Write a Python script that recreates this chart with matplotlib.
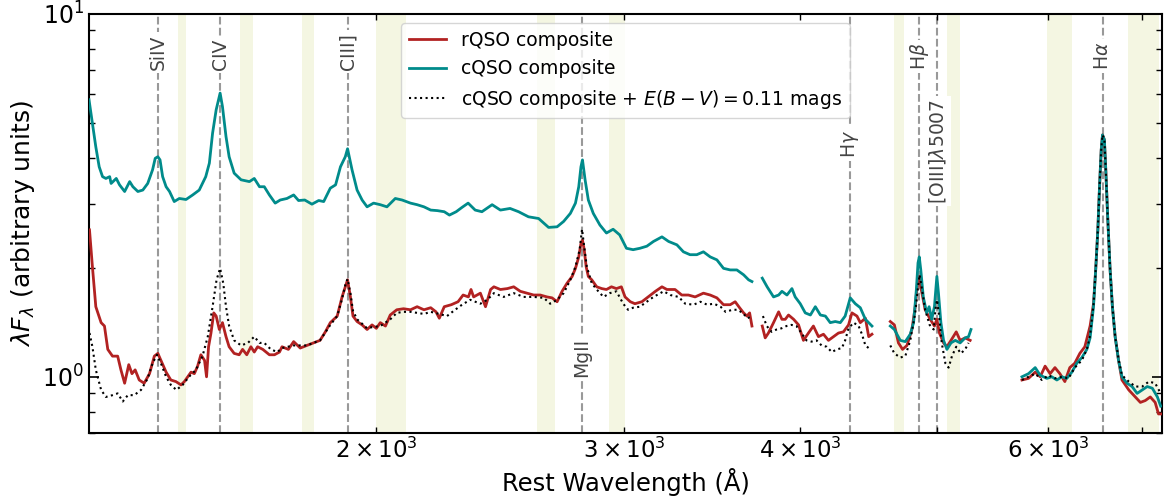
import numpy as np
import matplotlib
matplotlib.use("Agg")
import matplotlib.pyplot as plt

nan = np.nan

# ---------------- data ----------------
# cQSO composite (teal); nan entries mark gaps in the spectrum
cqso_wave = [1250, 1257, 1264, 1271, 1278, 1285, 1293, 1296, 1307, 1314, 1325, 1336, 1343, 1354,
             1365, 1376, 1387, 1393, 1399, 1404, 1410, 1418, 1426, 1437, 1449, 1465, 1481, 1497,
             1513, 1522, 1530, 1539, 1549, 1555, 1564, 1572, 1585, 1603, 1625, 1638, 1652, 1665,
             1679, 1695, 1709, 1728, 1747, 1761, 1779, 1800, 1820, 1835, 1855, 1871, 1886, 1901,
             1908, 1922, 1938, 1954, 1970, 1991, 2013, 2035, 2063, 2086, 2115, 2138, 2162, 2186,
             2210, 2235, 2254, 2279, 2301, 2324, 2351, 2377, 2417, 2450, 2489, 2524, 2565, 2608,
             2651, 2688, 2717, 2747, 2770, 2785, 2795, 2802, 2814, 2829, 2852, 2883, 2914, 2946,
             2978, 3011, 3044, 3078, 3113, 3147, 3191, 3226, 3270, 3305, 3341, 3378, 3415, 3453,
             3491, 3529, 3568, 3607, 3647, 3677, 3697, 3730,
             3760, 3790, 3830, 3862, 3883, 3915, 3947, 3968, 4001, 4034, 4068, 4101, 4135, 4169,
             4202, 4237, 4272, 4306, 4342, 4378, 4414, 4451, 4499, 4570,
             4636, 4667, 4712, 4751, 4790, 4816, 4838, 4851, 4861, 4873, 4893, 4920, 4940, 4961,
             4983, 5003, 5016, 5036, 5058, 5086, 5120, 5156, 5197, 5240, 5269, 5290, 5500,
             5750, 5812, 5876, 5924, 5989, 6038, 6088, 6138, 6188, 6239, 6290, 6342, 6394, 6428,
             6464, 6487, 6510, 6528, 6546, 6560, 6580, 6595, 6617, 6642, 6667, 6697, 6734, 6772,
             6828, 6885, 6942, 7000, 7058, 7117, 7176, 7215]
cqso_flux = [5.80, 5.00, 4.30, 3.79, 3.56, 3.52, 3.56, 3.41, 3.52, 3.38, 3.24, 3.45, 3.34, 3.24,
             3.27, 3.41, 3.72, 4.00, 4.04, 3.96, 3.56, 3.34, 3.24, 3.04, 3.10, 3.08, 3.17, 3.27,
             3.56, 3.88, 4.69, 5.44, 6.05, 5.55, 4.59, 4.04, 3.64, 3.49, 3.45, 3.52, 3.34, 3.34,
             3.17, 3.01, 3.07, 3.10, 3.17, 3.06, 3.07, 2.99, 3.06, 3.04, 3.31, 3.38, 3.79, 4.04,
             4.25, 3.72, 3.27, 3.07, 2.94, 3.01, 2.98, 2.94, 3.10, 3.07, 3.01, 2.98, 2.94, 2.88,
             2.87, 2.85, 2.79, 2.85, 2.93, 3.01, 2.88, 2.85, 2.98, 2.88, 2.91, 2.85, 2.76, 2.73,
             2.58, 2.59, 2.68, 2.82, 3.01, 3.34, 3.79, 3.96, 3.49, 3.07, 2.82, 2.62, 2.49, 2.55,
             2.46, 2.26, 2.24, 2.26, 2.29, 2.36, 2.43, 2.36, 2.31, 2.21, 2.17, 2.17, 2.21, 2.14,
             2.10, 1.99, 1.97, 1.97, 1.91, 1.85, 1.83, nan,
             1.87, 1.77, 1.66, 1.68, 1.72, 1.68, 1.75, 1.66, 1.59, 1.50, 1.48, 1.56, 1.48, 1.47,
             1.41, 1.42, 1.41, 1.47, 1.65, 1.59, 1.55, 1.44, 1.38, nan,
             1.38, 1.35, 1.26, 1.25, 1.31, 1.41, 1.74, 2.06, 2.14, 1.97, 1.66, 1.50, 1.56, 1.44,
             1.56, 1.89, 1.70, 1.41, 1.26, 1.19, 1.24, 1.26, 1.24, 1.28, 1.29, 1.35, nan,
             1.00, 1.02, 1.06, 1.01, 0.99, 1.00, 0.98, 1.00, 0.99, 1.03, 1.09, 1.13, 1.19, 1.28,
             1.56, 1.97, 2.54, 3.34, 4.22, 4.64, 4.50, 3.72, 2.71, 1.97, 1.56, 1.29, 1.11, 1.00,
             0.96, 0.94, 0.90, 0.92, 0.94, 0.93, 0.88, 0.83]

# rQSO composite (red)
rqso_wave = [1251, 1257, 1264, 1275, 1282, 1289, 1299, 1310, 1317, 1325, 1334, 1341, 1348, 1357,
             1368, 1380, 1391, 1399, 1406, 1418, 1429, 1441, 1453, 1461, 1469, 1477, 1485, 1493,
             1501, 1510, 1515, 1520, 1526, 1533, 1539, 1547, 1555, 1564, 1572, 1585, 1598, 1607,
             1618, 1629, 1638, 1647, 1661, 1679, 1693, 1707, 1714, 1732, 1747, 1766, 1785, 1805,
             1824, 1840, 1855, 1876, 1891, 1901, 1908, 1917, 1925, 1938, 1954, 1970, 1986, 2000,
             2013, 2030, 2046, 2068, 2091, 2115, 2138, 2162, 2186, 2205, 2217, 2235, 2261, 2286,
             2305, 2325, 2335, 2345, 2371, 2391, 2411, 2424, 2450, 2478, 2504, 2531, 2559, 2587,
             2615, 2644, 2666, 2688, 2710, 2732, 2755, 2770, 2785, 2795, 2802, 2810, 2819, 2829,
             2845, 2868, 2892, 2914, 2938, 2962, 2986, 3004, 3030, 3053, 3088, 3120, 3157, 3191,
             3217, 3260, 3296, 3332, 3369, 3415, 3453, 3491, 3529, 3568, 3597, 3623, 3647, 3667,
             3683, 3697, 3730,
             3760, 3778, 3798, 3830, 3862, 3883, 3904, 3925, 3958, 3990, 4022, 4055, 4088, 4122,
             4156, 4190, 4225, 4259, 4294, 4330, 4354, 4390, 4414, 4451, 4475, 4499, 4570,
             4636, 4667, 4698, 4730, 4764, 4803, 4829, 4847, 4861, 4877, 4908, 4949, 4983, 5003,
             5024, 5058, 5086, 5120, 5164, 5197, 5240, 5283, 5500,
             5750, 5812, 5876, 5924, 5972, 6021, 6069, 6118, 6168, 6218, 6269, 6321, 6373, 6428,
             6464, 6487, 6510, 6528, 6546, 6560, 6580, 6595, 6617, 6642, 6667, 6697, 6734, 6772,
             6848, 6922, 6979, 7035, 7093, 7150, 7189, 7228]
rqso_flux = [2.54, 2.01, 1.56, 1.41, 1.38, 1.19, 1.14, 1.14, 1.045, 0.96, 1.08, 1.02, 1.045, 0.98,
             0.96, 1.02, 1.14, 1.16, 1.11, 1.03, 0.98, 0.97, 0.95, 0.97, 1.00, 1.03, 1.02, 1.07,
             1.15, 1.11, 1.00, 1.21, 1.32, 1.50, 1.47, 1.35, 1.41, 1.29, 1.21, 1.16, 1.15, 1.19,
             1.15, 1.21, 1.17, 1.21, 1.19, 1.15, 1.15, 1.17, 1.21, 1.19, 1.25, 1.20, 1.22, 1.24,
             1.26, 1.33, 1.41, 1.47, 1.66, 1.77, 1.85, 1.66, 1.47, 1.42, 1.39, 1.35, 1.39, 1.36,
             1.41, 1.38, 1.48, 1.53, 1.54, 1.53, 1.56, 1.53, 1.55, 1.51, 1.45, 1.56, 1.58, 1.61,
             1.68, 1.66, 1.74, 1.66, 1.70, 1.56, 1.74, 1.77, 1.74, 1.75, 1.77, 1.72, 1.70, 1.68,
             1.68, 1.66, 1.65, 1.61, 1.72, 1.81, 1.89, 1.99, 2.14, 2.33, 2.38, 2.24, 2.01, 1.89,
             1.85, 1.77, 1.75, 1.74, 1.77, 1.75, 1.77, 1.66, 1.61, 1.59, 1.61, 1.66, 1.72, 1.77,
             1.74, 1.74, 1.68, 1.68, 1.66, 1.70, 1.68, 1.65, 1.58, 1.58, 1.61, 1.55, 1.50, 1.47,
             1.50, 1.38, nan,
             1.38, 1.28, 1.32, 1.41, 1.51, 1.44, 1.44, 1.48, 1.44, 1.39, 1.26, 1.32, 1.38, 1.29,
             1.31, 1.26, 1.29, 1.32, 1.33, 1.39, 1.50, 1.47, 1.41, 1.45, 1.29, 1.31, nan,
             1.42, 1.39, 1.24, 1.19, 1.22, 1.35, 1.56, 1.81, 1.89, 1.74, 1.53, 1.44, 1.38, 1.44,
             1.32, 1.24, 1.21, 1.26, 1.33, 1.26, 1.28, 1.26, nan,
             0.98, 0.99, 1.03, 1.00, 1.07, 1.02, 1.06, 1.02, 0.97, 1.06, 1.09, 1.16, 1.21, 1.38,
             1.59, 1.97, 2.54, 3.34, 4.22, 4.64, 4.50, 3.72, 2.71, 1.97, 1.56, 1.29, 1.11, 0.98,
             0.92, 0.88, 0.85, 0.86, 0.88, 0.85, 0.79, 0.79]

# cQSO composite reddened by E(B-V)=0.11 (black dotted)
red_wave = [1251, 1257, 1264, 1275, 1285, 1299, 1310, 1321, 1332, 1346, 1361, 1376, 1387, 1397,
            1406, 1418, 1429, 1442, 1457, 1472, 1489, 1505, 1518, 1530, 1540, 1549, 1557, 1564,
            1572, 1585, 1603, 1621, 1638, 1652, 1665, 1683, 1701, 1714, 1747, 1785, 1824, 1855,
            1876, 1891, 1901, 1908, 1917, 1925, 1938, 1954, 1970, 1986, 2013, 2046, 2068, 2091,
            2115, 2138, 2162, 2186, 2217, 2245, 2270, 2301, 2332, 2371, 2398, 2424, 2463, 2504,
            2545, 2587, 2630, 2658, 2688, 2717, 2747, 2770, 2789, 2800, 2810, 2822, 2845, 2868,
            2900, 2930, 2962, 2995, 3019, 3044, 3078, 3113, 3147, 3200, 3235, 3279, 3315, 3361,
            3398, 3436, 3474, 3512, 3541, 3581, 3611, 3641, 3671, 3694, 3730,
            3764, 3788, 3818, 3849, 3880, 3912, 3944, 3976, 4009, 4042, 4075, 4109, 4143, 4178,
            4213, 4248, 4283, 4306, 4330, 4366, 4402, 4426, 4451, 4475, 4570,
            4636, 4667, 4712, 4751, 4790, 4829, 4851, 4864, 4883, 4908, 4944, 4977, 4994, 5005,
            5024, 5043, 5073, 5100, 5128, 5164, 5203, 5240, 5269, 5500,
            5750, 5812, 5876, 5940, 6005, 6069, 6138, 6205, 6269, 6342, 6394, 6428, 6464, 6487,
            6510, 6528, 6546, 6560, 6580, 6595, 6617, 6642, 6667, 6697, 6734, 6772, 6848, 6922,
            7000, 7077, 7150, 7215]
red_flux = [1.32, 1.21, 1.045, 0.92, 0.88, 0.89, 0.90, 0.855, 0.89, 0.89, 0.92, 0.99, 1.09, 1.15,
            1.09, 1.00, 0.95, 0.92, 0.95, 1.00, 1.045, 1.14, 1.29, 1.56, 1.85, 1.99, 1.81, 1.56,
            1.38, 1.26, 1.22, 1.24, 1.29, 1.24, 1.24, 1.19, 1.17, 1.20, 1.22, 1.22, 1.26, 1.39,
            1.47, 1.64, 1.79, 1.86, 1.70, 1.52, 1.44, 1.40, 1.36, 1.37, 1.38, 1.44, 1.50, 1.51,
            1.51, 1.50, 1.49, 1.51, 1.49, 1.47, 1.52, 1.58, 1.63, 1.59, 1.63, 1.70, 1.66, 1.70,
            1.66, 1.66, 1.65, 1.59, 1.63, 1.70, 1.85, 2.01, 2.24, 2.55, 2.28, 2.01, 1.81, 1.74,
            1.66, 1.70, 1.72, 1.59, 1.53, 1.55, 1.56, 1.61, 1.66, 1.72, 1.68, 1.66, 1.59, 1.58,
            1.61, 1.58, 1.59, 1.56, 1.51, 1.53, 1.53, 1.50, 1.45, 1.47, nan,
            1.47, 1.38, 1.33, 1.35, 1.36, 1.38, 1.39, 1.38, 1.32, 1.26, 1.25, 1.26, 1.22, 1.21,
            1.17, 1.19, 1.20, 1.26, 1.36, 1.41, 1.38, 1.31, 1.22, 1.20, nan,
            1.22, 1.16, 1.13, 1.14, 1.26, 1.50, 1.77, 1.91, 1.74, 1.53, 1.39, 1.35, 1.56, 1.63,
            1.44, 1.24, 1.09, 1.06, 1.14, 1.21, 1.16, 1.19, 1.24, nan,
            0.98, 1.00, 1.02, 0.98, 1.01, 0.99, 1.00, 0.99, 1.06, 1.11, 1.19, 1.30, 1.58, 1.97,
            2.54, 3.34, 4.22, 4.64, 4.50, 3.72, 2.71, 1.97, 1.56, 1.29, 1.12, 1.01, 0.97, 0.94,
            0.94, 0.97, 0.96, 0.90]

# emission lines
line_names = ["SiIV", "CIV", "CIII]", "MgII", r"H$\gamma$", r"H$\beta$",
              r"[OIII]$\lambda$5007", r"H$\alpha$"]
line_waves = [1400, 1549, 1909, 2800, 4341, 4861, 5007, 6563]
line_label_y = [7.0, 7.0, 7.0, 1.0, 4.0, 7.0, 3.0, 7.0]

# shaded wavelength windows
band_lo = [1445, 1600, 1770, 2000, 2600, 2925, 4665, 5090, 5990, 6840]
band_hi = [1465, 1635, 1805, 2100, 2680, 3005, 4740, 5200, 6245, 7190]

# ---------------- figure ----------------
fig = plt.figure(figsize=(11.65, 4.96), dpi=100)
ax = fig.add_axes([0.0764, 0.127, 0.921, 0.845])

for lo, hi in zip(band_lo, band_hi):
    ax.axvspan(lo, hi, color="#f4f6e2", lw=0, zorder=0)

for w, name, ly in zip(line_waves, line_names, line_label_y):
    ax.axvline(w, color="#999999", ls="--", lw=1.5, zorder=1)
    ax.text(w, ly, name, rotation=90, ha="center", va="bottom", fontsize=13.5,
            color="#444444", zorder=2,
            bbox=dict(facecolor="white", edgecolor="none", pad=2))

ax.plot(rqso_wave, rqso_flux, color="#b22222", lw=2.0, label="rQSO composite", zorder=3)
ax.plot(cqso_wave, cqso_flux, color="#008b8b", lw=2.0, label="cQSO composite", zorder=4)
ax.plot(red_wave, red_flux, color="black", ls=":", lw=1.5,
        label=r"cQSO composite + $E(B-V) = 0.11$ mags", zorder=5)

ax.set_xscale("log")
ax.set_yscale("log")
ax.set_xlim(1250, 7230)
ax.set_ylim(0.7, 10)

ax.set_xlabel("Rest Wavelength (Å)", fontsize=17.5)
ax.set_ylabel(r"$\lambda F_{\lambda}$ (arbitrary units)", fontsize=18)

ax.tick_params(which="both", direction="in", top=True, right=True)
ax.tick_params(which="major", length=7, width=1.2)
ax.tick_params(which="minor", length=4, width=1.0)
ax.tick_params(axis="y", which="both", labelsize=17)
ax.tick_params(axis="x", which="both", labelsize=16.5)
for s in ax.spines.values():
    s.set_linewidth(1.5)

leg = ax.legend(loc="upper center", fontsize=13.5)
leg.set_zorder(10)

fig.savefig("out.png", dpi=100)
